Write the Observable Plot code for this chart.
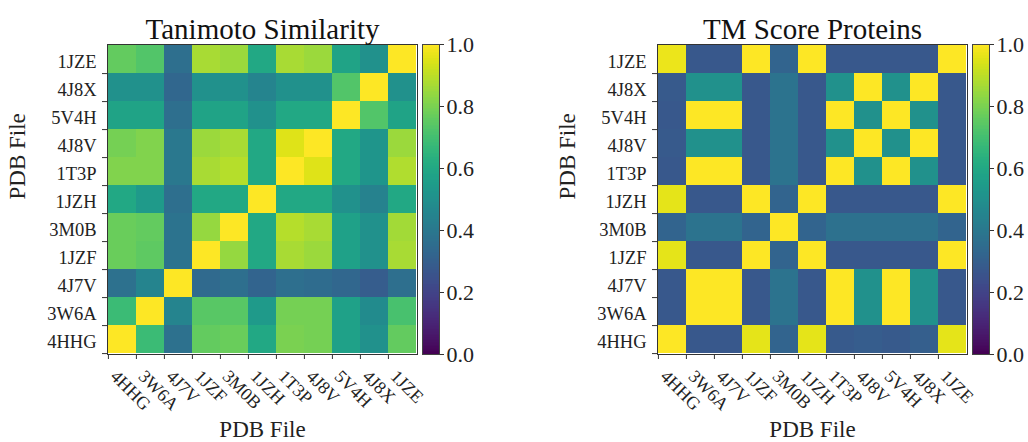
<!DOCTYPE html>
<html>
<head>
<meta charset="utf-8">
<script src="https://cdn.jsdelivr.net/npm/d3@7"></script>
<script src="https://cdn.jsdelivr.net/npm/@observablehq/plot@0.6"></script>
<style>
  html, body { margin: 0; padding: 0; background: #fff; }
  #wrap { position: relative; width: 1028px; height: 442px; overflow: hidden; }
  #wrap svg { position: absolute; top: 0; overflow: visible; }
</style>
</head>
<body>
<div id="wrap"></div>
<script>
// PDB files in axis order (x: left→right, y: bottom→top)
const labels = ["4HHG", "3W6A", "4J7V", "1JZF", "3M0B", "1JZH", "1T3P", "4J8V", "5V4H", "4J8X", "1JZE"];

// Tanimoto similarity: one row per PDB file (same order as labels), columns in label order
const tanimoto = [
  [1.00, 0.68, 0.37, 0.76, 0.77, 0.60, 0.80, 0.79, 0.57, 0.50, 0.76],
  [0.68, 1.00, 0.45, 0.74, 0.74, 0.54, 0.79, 0.79, 0.57, 0.48, 0.71],
  [0.37, 0.45, 1.00, 0.34, 0.36, 0.32, 0.36, 0.35, 0.33, 0.29, 0.36],
  [0.77, 0.75, 0.38, 1.00, 0.84, 0.60, 0.87, 0.85, 0.57, 0.50, 0.87],
  [0.77, 0.76, 0.38, 0.84, 1.00, 0.60, 0.89, 0.87, 0.57, 0.50, 0.86],
  [0.60, 0.54, 0.36, 0.60, 0.60, 1.00, 0.60, 0.60, 0.50, 0.44, 0.60],
  [0.81, 0.81, 0.40, 0.87, 0.89, 0.60, 1.00, 0.95, 0.60, 0.52, 0.88],
  [0.79, 0.81, 0.40, 0.85, 0.87, 0.60, 0.95, 1.00, 0.60, 0.52, 0.85],
  [0.58, 0.58, 0.36, 0.58, 0.58, 0.50, 0.60, 0.60, 1.00, 0.73, 0.58],
  [0.50, 0.50, 0.33, 0.50, 0.50, 0.45, 0.50, 0.50, 0.73, 1.00, 0.50],
  [0.76, 0.73, 0.36, 0.87, 0.85, 0.60, 0.87, 0.85, 0.58, 0.50, 1.00]
];

// TM score (proteins): one row per PDB file, columns in label order
const tmScore = [
  [1.00, 0.27, 0.27, 0.96, 0.32, 0.96, 0.28, 0.29, 0.28, 0.30, 0.96],
  [0.27, 1.00, 1.00, 0.27, 0.38, 0.27, 1.00, 0.50, 1.00, 0.50, 0.27],
  [0.27, 1.00, 1.00, 0.27, 0.38, 0.27, 1.00, 0.50, 1.00, 0.50, 0.27],
  [0.96, 0.27, 0.27, 1.00, 0.32, 1.00, 0.27, 0.27, 0.27, 0.27, 1.00],
  [0.32, 0.38, 0.38, 0.32, 1.00, 0.32, 0.37, 0.37, 0.37, 0.37, 0.32],
  [0.96, 0.27, 0.27, 1.00, 0.32, 1.00, 0.27, 0.27, 0.27, 0.27, 1.00],
  [0.27, 1.00, 1.00, 0.27, 0.38, 0.27, 1.00, 0.50, 1.00, 0.50, 0.27],
  [0.28, 0.50, 0.50, 0.27, 0.38, 0.27, 0.50, 1.00, 0.50, 1.00, 0.27],
  [0.27, 1.00, 1.00, 0.27, 0.38, 0.27, 1.00, 0.50, 1.00, 0.50, 0.27],
  [0.28, 0.50, 0.50, 0.27, 0.38, 0.27, 0.50, 1.00, 0.50, 1.00, 0.27],
  [0.97, 0.27, 0.27, 1.00, 0.32, 1.00, 0.27, 0.27, 0.27, 0.27, 1.00]
];

const titles = ["Tanimoto Similarity", "TM Score Proteins"];
const axisTitle = "PDB File";
const colorTicks = [0, 0.2, 0.4, 0.6, 0.8, 1.0];

const FONT = "Liberation Serif, Times New Roman, serif";
const wrap = document.getElementById("wrap");

const W = 420, H = 442, ML = 107, MR = 3, MT = 44, MB = 88;
const cellW = (W - ML - MR) / labels.length;
const cellH = (H - MT - MB) / labels.length;

function toCells(matrix) {
  const out = [];
  matrix.forEach((row, i) => row.forEach((v, j) => out.push({row: labels[i], col: labels[j], value: v})));
  return out;
}

function heatmap(matrix, title, left) {
  const svg = Plot.plot({
    width: W, height: H,
    marginLeft: ML, marginRight: MR, marginTop: MT, marginBottom: MB,
    style: {fontFamily: FONT, color: "#222", background: "transparent", overflow: "visible"},
    x: {domain: labels, padding: 0, axis: null},
    y: {domain: labels.slice().reverse(), padding: 0, axis: null},
    color: {type: "linear", scheme: "viridis", domain: [0, 1]},
    marks: [
      Plot.cell(toCells(matrix), {x: "col", y: "row", fill: "value", inset: 0, shapeRendering: "crispEdges"}),
      Plot.frame({stroke: "#333", strokeWidth: 1}),
      // tick marks sit on the cell edges (matplotlib pcolor style)
      Plot.axisX({anchor: "bottom", tickSize: 5, tickFormat: () => "", dx: -cellW / 2, label: null, stroke: "#333"}),
      Plot.axisY({anchor: "left", tickSize: 5, tickFormat: () => "", dy: cellH / 2, label: null, stroke: "#333"}),
      // tick labels
      Plot.text(labels, {x: d => d, frameAnchor: "bottom", rotate: 45, textAnchor: "start", lineAnchor: "bottom",
        dx: -cellW / 2 + 1, dy: 23, fontSize: 18, fill: "#222"}),
      Plot.text(labels, {y: d => d, frameAnchor: "left", textAnchor: "end", dx: -11, dy: 3, fontSize: 18.5, fill: "#222"}),
      Plot.text([title], {frameAnchor: "top", lineAnchor: "bottom", dy: -6, fontSize: 29, fill: "#111"}),
      Plot.text([axisTitle], {frameAnchor: "bottom", lineAnchor: "bottom", dy: 82, fontSize: 23, fill: "#222"}),
      Plot.text([axisTitle], {frameAnchor: "left", rotate: -90, dx: -90, fontSize: 23, fill: "#222"})
    ]
  });
  svg.style.left = left + "px";
  wrap.appendChild(svg);
}

function colorbar(left, width) {
  const step = 0.005;
  const stops = d3.range(0, 1, step);
  const svg = Plot.plot({
    width: width, height: H,
    marginLeft: 6, marginRight: width - 6 - 17, marginTop: MT, marginBottom: MB,
    style: {fontFamily: FONT, color: "#222", background: "transparent", overflow: "visible"},
    x: {axis: null},
    y: {domain: [0, 1], axis: null},
    color: {type: "linear", scheme: "viridis", domain: [0, 1]},
    marks: [
      Plot.rect(stops, {y1: d => d, y2: d => Math.min(1, d + step * 2), fill: d => d + step / 2, shapeRendering: "crispEdges"}),
      Plot.frame({stroke: "#444", strokeWidth: 1}),
      Plot.axisY({anchor: "right", ticks: colorTicks, tickFormat: d3.format(".1f"), fontSize: 22, tickSize: 4, tickPadding: 3, label: null, stroke: "#333"})
    ]
  });
  svg.style.left = left + "px";
  wrap.appendChild(svg);
}

heatmap(tanimoto, titles[0], 0);
colorbar(416, 80);
heatmap(tmScore, titles[1], 550);
colorbar(966, 62);
</script>
</body>
</html>
